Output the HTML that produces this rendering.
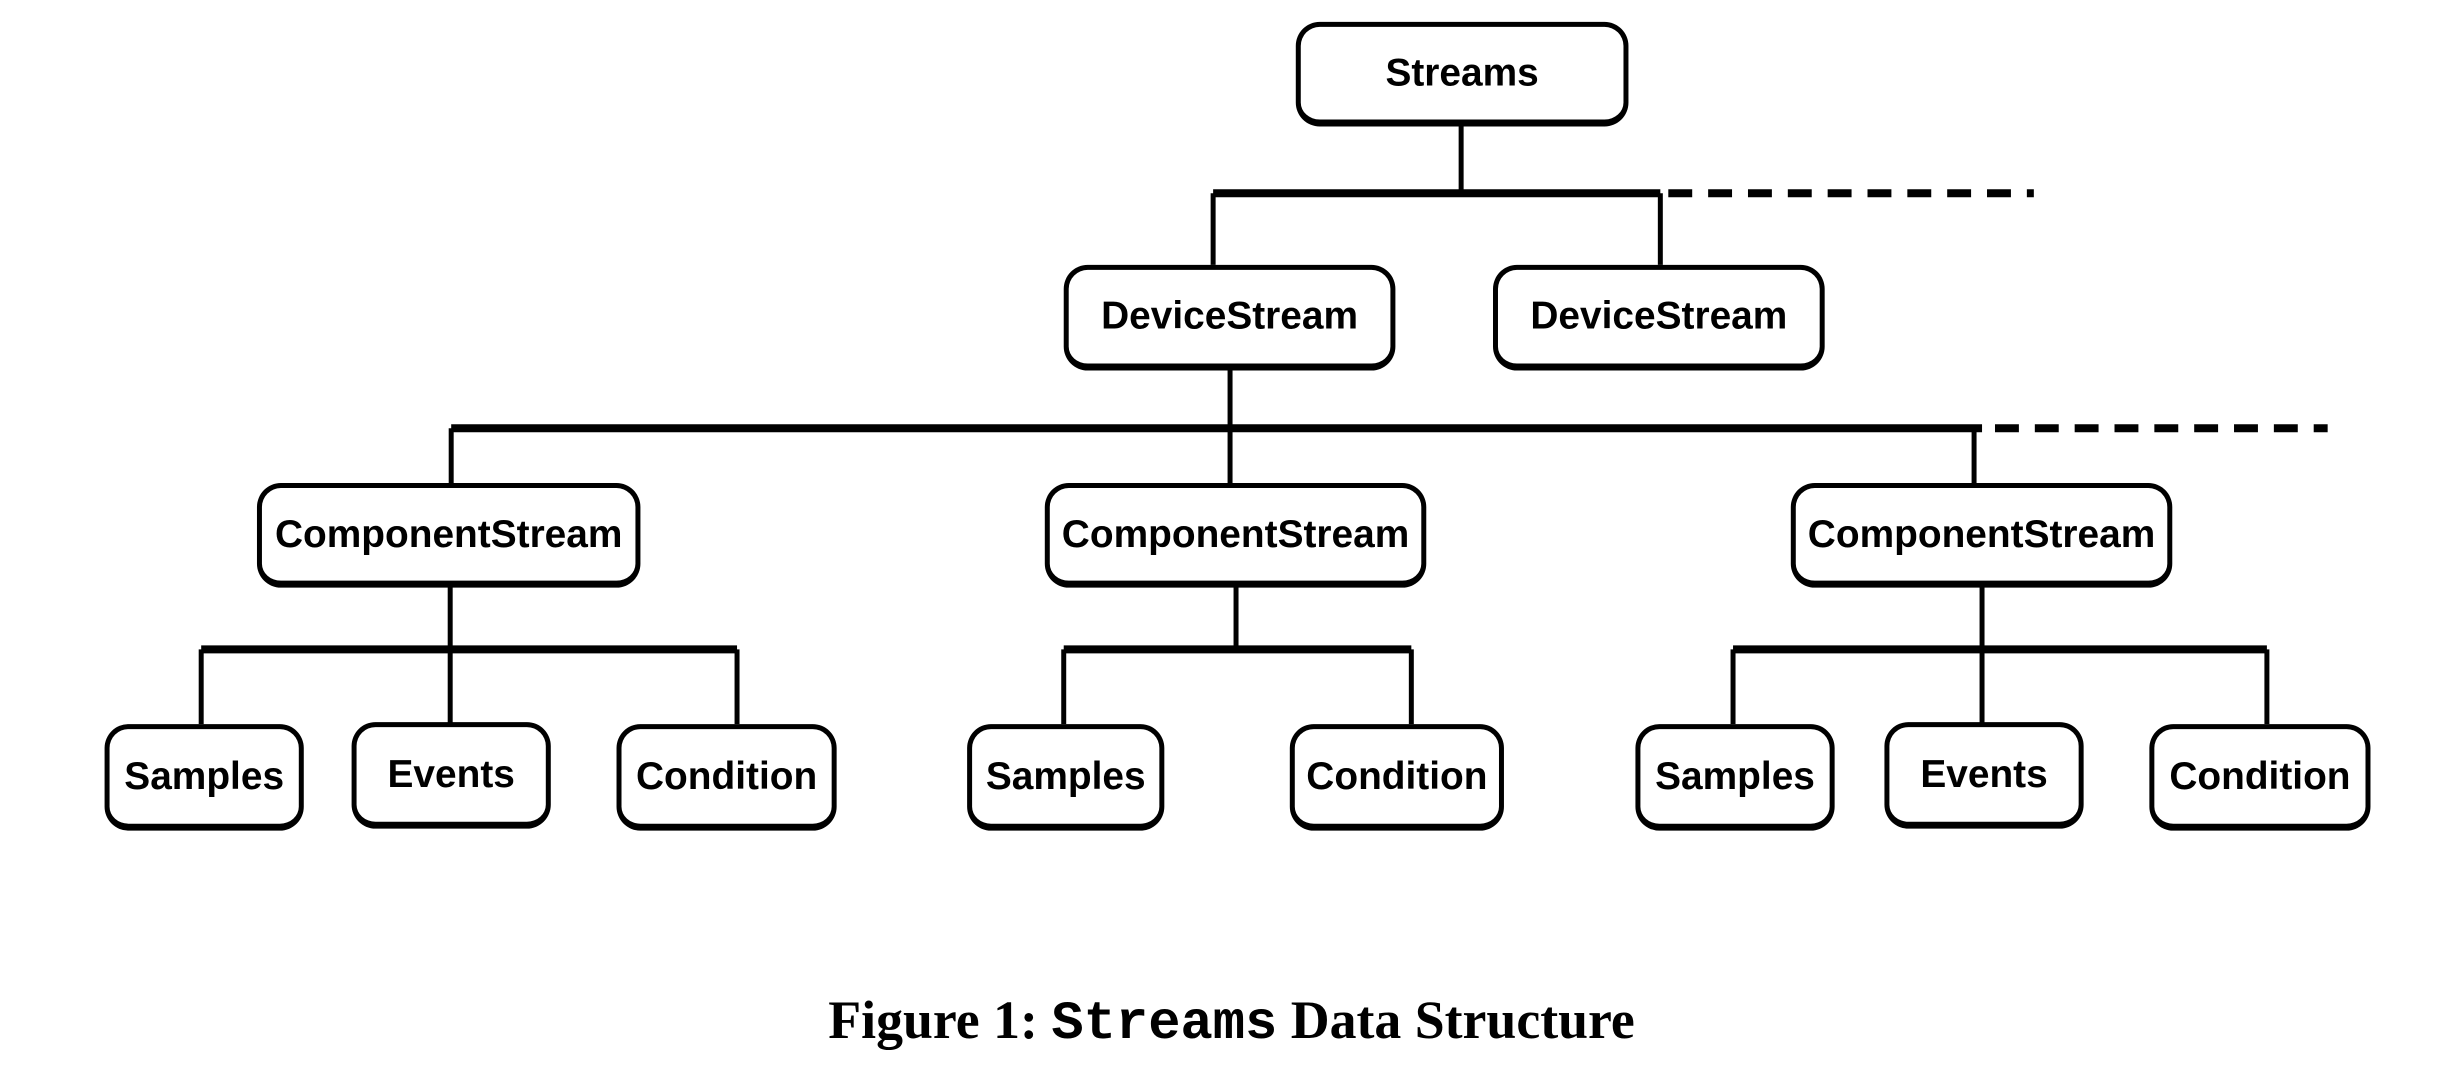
<!DOCTYPE html>
<html><head><meta charset="utf-8"><style>
body{margin:0;width:2439px;height:1067px;background:#fff;position:relative;overflow:hidden}
#w{position:absolute;left:0;top:0;width:2439px;height:1067px;transform:scale(0.996);transform-origin:0 0}
.b{position:absolute;box-sizing:border-box;border:5px solid #000;border-bottom-width:7px;border-radius:24px;background:#fff;display:flex;align-items:center;justify-content:center;font:bold 39px "Liberation Sans",sans-serif;color:#000}
.cap{position:absolute;left:17px;width:2439px;top:993px;text-align:center;font:bold 54px "Liberation Serif",serif}
.cap span{font-family:"Liberation Mono",monospace}
</style></head><body><div id="w">
<svg width="2439" height="1067" style="position:absolute;left:0;top:0">
<g stroke="#000" fill="none">
<path d="M1467 125V194M1235 371V430M453 430V485M1235 430V485M1982 430V485M452 589V652M202 652V727M452 652V727M740 652V727M1241 589V652M1068 652V727M1417 652V727M1990 589V652M1740 652V727M1990 652V727M2276 652V727M1218 194V266M1667 194V266" stroke-width="5"/>
<path d="M1218 194H1667M453 430H1990M202 652H740M1068 652H1417M1740 652H2276" stroke-width="8"/>
<path d="M1675 194H2042M2003 430H2337" stroke-width="8" stroke-dasharray="24 16"/>
</g></svg>
<div class="b" style="left:1301px;top:22px;width:334px;height:105px">Streams</div>
<div class="b" style="left:1068px;top:266px;width:333px;height:106px">DeviceStream</div>
<div class="b" style="left:1499px;top:266px;width:333px;height:106px">DeviceStream</div>
<div class="b" style="left:258px;top:485px;width:385px;height:105px">ComponentStream</div>
<div class="b" style="left:1049px;top:485px;width:383px;height:105px">ComponentStream</div>
<div class="b" style="left:1798px;top:485px;width:383px;height:105px">ComponentStream</div>
<div class="b" style="left:105px;top:727px;width:200px;height:107px">Samples</div>
<div class="b" style="left:353px;top:725px;width:200px;height:107px">Events</div>
<div class="b" style="left:619px;top:727px;width:221px;height:107px">Condition</div>
<div class="b" style="left:971px;top:727px;width:198px;height:107px">Samples</div>
<div class="b" style="left:1295px;top:727px;width:215px;height:107px">Condition</div>
<div class="b" style="left:1642px;top:727px;width:200px;height:107px">Samples</div>
<div class="b" style="left:1892px;top:725px;width:200px;height:107px">Events</div>
<div class="b" style="left:2158px;top:727px;width:222px;height:107px">Condition</div>
<div class="cap">Figure 1: <span>Streams</span> Data Structure</div>
</div></body></html>
